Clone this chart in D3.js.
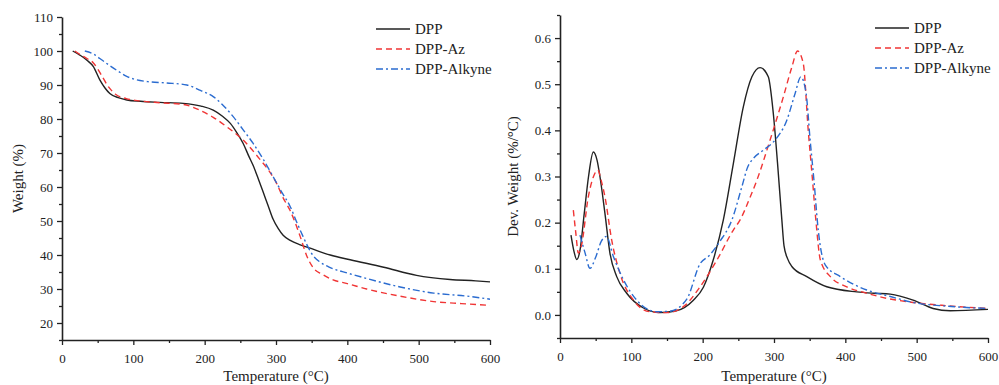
<!DOCTYPE html>
<html><head><meta charset="utf-8">
<script src="https://cdn.jsdelivr.net/npm/d3@7"></script>
<style>body{margin:0;background:#fff}svg{display:block}text{font-family:"Liberation Serif","Times New Roman",serif;fill:#222}</style>
</head><body><svg id="c" width="999" height="385"></svg>
<script>
// ---- TGA (left) ----
const tgaDppT = [15,25,35,44,53,60,67,80,91,110,137,170,195,212,225,236,245,254,262,268,275,282,289,296,303,310,320,334,348,376,404,451,497,544,580,600];
const tgaDppW = [100,98.8,97.3,95.4,91.5,89.2,87.5,86.2,85.6,85.2,84.9,84.6,83.8,82.6,80.8,78.7,76,72.8,69,66.3,62.5,58.5,54.5,50.5,47.8,45.8,44.3,43,42,40,38.6,36.4,34,32.8,32.4,32.1];
const tgaAzT = [18,25,35,44,55,65,75,90,110,137,170,193,212,231,254,278,290,301,310,320,334,343,352,365,380,400,427,474,521,560,600];
const tgaAzW = [100,99,97.8,96.5,93,89.5,87.3,86,85.3,84.8,84.3,82.6,80.5,77.7,73.8,68,64.8,61,56.8,53,45.4,39.8,36.3,34.3,32.7,31.6,30,27.9,26.3,25.7,25.2];
const tgaAlkT = [32,45,53,65,77,90,100,120,147,175,194,212,226,240,254,268,282,296,308,320,330,338,345,352,362,376,400,427,474,521,568,600];
const tgaAlkW = [100,99,97.8,96,94.3,92.6,91.8,91,90.6,90,88.4,86.6,84,80.7,76.8,72.8,68.2,63,58.5,54.2,49.2,45.4,42.3,39.8,37.9,36.3,34.7,33.1,30.6,28.8,27.9,27];
// ---- DTG (right) ----
const dtgDppT = [15.4,20,23.4,28,34,40,46.7,52,56,63,70,79.5,93.5,117,140,163,187,201,215,229,243,257,269,280.5,292,299,305,311,314,319,325,346,374,416,440,463,495,523,547,600];
const dtgDppD = [0.173,0.135,0.12,0.14,0.22,0.3,0.353,0.335,0.3,0.22,0.134,0.083,0.047,0.015,0.005,0.009,0.032,0.06,0.12,0.206,0.328,0.451,0.516,0.536,0.516,0.437,0.328,0.206,0.15,0.122,0.105,0.083,0.061,0.05,0.047,0.045,0.032,0.014,0.009,0.012];
const dtgAzT = [18.7,22,25.7,30,39.7,47,53,58,63,72.5,84,103,126,149.6,173,196.4,220,243,252.5,266.5,276,294.5,313,325,333,341,348,354,359,365,379,402,430,458,495,542,600];
const dtgAzD = [0.227,0.18,0.134,0.15,0.256,0.3,0.314,0.29,0.256,0.162,0.09,0.032,0.007,0.005,0.018,0.061,0.119,0.184,0.206,0.255,0.292,0.379,0.472,0.537,0.572,0.545,0.4,0.292,0.2,0.119,0.083,0.061,0.047,0.036,0.027,0.02,0.014];
const dtgAlkT = [28,35,42,50,58,65,75,89,107.6,135.6,154,178,196,210,224,241,255,263,271,285,301.5,318,329.6,337.6,345,350.6,356,362,372,393,430,463,495,542,600];
const dtgAlkD = [0.173,0.135,0.101,0.125,0.16,0.17,0.126,0.076,0.032,0.007,0.008,0.035,0.11,0.13,0.159,0.206,0.278,0.32,0.339,0.357,0.379,0.422,0.48,0.516,0.48,0.38,0.292,0.184,0.108,0.083,0.054,0.04,0.027,0.019,0.014];

const seriesNames = ["DPP","DPP-Az","DPP-Alkyne"];
const xTicks = [0,100,200,300,400,500,600];
const leftYTicks = [20,30,40,50,60,70,80,90,100,110];
const rightYTicks = [0.0,0.1,0.2,0.3,0.4,0.5,0.6];

const colors = ["#222222","#f03535","#2b6cd0"];
const dashes = [null,"6,4","7,3,2,3"];

const svg = d3.select("#c");

function panel(cfg){
  const x = d3.scaleLinear().domain([0,600]).range(cfg.xr);
  const y = d3.scaleLinear().domain(cfg.yd).range(cfg.yr);
  const g = svg.append("g");
  // minor ticks
  g.append("g").attr("transform",`translate(0,${cfg.yr[0]})`)
    .call(d3.axisBottom(x).tickValues(d3.range(50,600,100)).tickSize(3).tickFormat(""))
    .call(a=>a.select(".domain").remove());
  g.append("g").attr("transform",`translate(${cfg.xr[0]},0)`)
    .call(d3.axisLeft(y).tickValues(cfg.minor).tickSize(3).tickFormat(""))
    .call(a=>a.select(".domain").remove());
  const xa = g.append("g").attr("transform",`translate(0,${cfg.yr[0]})`)
    .call(d3.axisBottom(x).tickValues(xTicks).tickSize(5).tickSizeOuter(0).tickPadding(6).tickFormat(d3.format("d")));
  const ya = g.append("g").attr("transform",`translate(${cfg.xr[0]},0)`)
    .call(d3.axisLeft(y).tickValues(cfg.ticks).tickSize(5).tickSizeOuter(0).tickPadding(4).tickFormat(cfg.fmt));
  g.selectAll(".domain").attr("stroke","#222").attr("stroke-width",1.6);
  g.selectAll(".tick line").attr("stroke","#222").attr("stroke-width",1.3);
  g.selectAll(".tick text").attr("font-size",13).attr("font-family","Liberation Serif").attr("fill","#222");
  xa.selectAll(".tick text").attr("dy","0.9em");
  // axis titles
  g.append("text").attr("x",(cfg.xr[0]+cfg.xr[1])/2).attr("y",381).attr("text-anchor","middle")
    .attr("font-size",15).text("Temperature (°C)");
  g.append("text").attr("transform",`translate(${cfg.ylx},${(cfg.yr[0]+cfg.yr[1])/2}) rotate(-90)`)
    .attr("text-anchor","middle").attr("dy","0.35em").attr("font-size",15).text(cfg.ylabel);
  // lines
  const line = d3.line().x(d=>x(d[0])).y(d=>y(d[1])).curve(d3.curveMonotoneX);
  cfg.data.forEach((s,i)=>{
    g.append("path").datum(d3.zip(s[0],s[1])).attr("d",line).attr("fill","none")
      .attr("stroke",colors[i]).attr("stroke-width",1.4)
      .attr("stroke-dasharray",dashes[i]);
  });
  // legend
  seriesNames.forEach((n,i)=>{
    const ly = cfg.leg[1]+i*20;
    g.append("line").attr("x1",cfg.leg[0]).attr("x2",cfg.leg[0]+34).attr("y1",ly).attr("y2",ly)
      .attr("stroke",colors[i]).attr("stroke-width",1.4).attr("stroke-dasharray",dashes[i]);
    g.append("text").attr("x",cfg.leg[0]+39).attr("y",ly).attr("dy","0.35em").attr("font-size",15).text(n);
  });
}

panel({xr:[62,490], yd:[15,110], yr:[340,17], ticks:leftYTicks, minor:d3.range(15,110,10),
  fmt:d3.format("d"), ylabel:"Weight (%)", ylx:18, leg:[376,29],
  data:[[tgaDppT,tgaDppW],[tgaAzT,tgaAzW],[tgaAlkT,tgaAlkW]]});
panel({xr:[560,988], yd:[-0.05,0.65], yr:[338,15], ticks:rightYTicks, minor:[-0.05,0.05,0.15,0.25,0.35,0.45,0.55,0.65],
  fmt:d3.format(".1f"), ylabel:"Dev. Weight (%/°C)", ylx:513, leg:[875,28],
  data:[[dtgDppT,dtgDppD],[dtgAzT,dtgAzD],[dtgAlkT,dtgAlkD]]});
</script></body></html>
